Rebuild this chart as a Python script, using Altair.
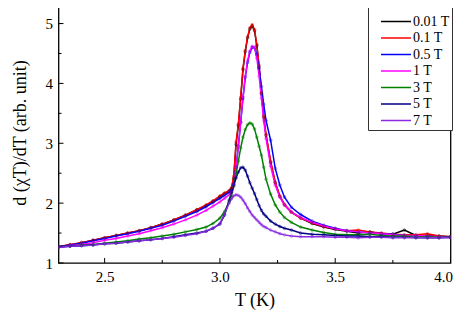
import altair as alt
import pandas as pd

T = [2.30, 2.35, 2.40, 2.45, 2.50, 2.55, 2.60, 2.65, 2.70, 2.75, 2.80, 2.85, 2.90,
     2.94, 2.97, 3.00, 3.02, 3.04,
     3.05, 3.06, 3.07, 3.08, 3.09, 3.10, 3.11, 3.12, 3.13, 3.14, 3.15, 3.16, 3.17, 3.18, 3.19, 3.20,
     3.22, 3.24, 3.26, 3.28, 3.31, 3.35, 3.40,
     3.45, 3.50, 3.55, 3.60, 3.65, 3.70, 3.75, 3.80, 3.85, 3.90, 3.95, 4.00]

y_001 = [1.27, 1.30, 1.34, 1.38, 1.42, 1.46, 1.50, 1.54, 1.59, 1.65, 1.72, 1.80, 1.89,
         1.96, 2.03, 2.11, 2.16, 2.20,
         2.24, 2.42, 2.98, 3.30, 3.74, 4.23, 4.53, 4.76, 4.91, 4.96, 4.88, 4.63, 4.27, 3.83, 3.43, 3.13,
         2.68, 2.34, 2.11, 1.97, 1.85, 1.75, 1.66,
         1.60, 1.56, 1.53, 1.50, 1.52, 1.49, 1.48, 1.55, 1.46, 1.46, 1.45, 1.44]
y_01 = [1.27, 1.31, 1.34, 1.38, 1.42, 1.46, 1.50, 1.54, 1.59, 1.65, 1.72, 1.80, 1.89,
        1.97, 2.04, 2.12, 2.17, 2.21,
        2.26, 2.45, 3.02, 3.32, 3.77, 4.25, 4.55, 4.78, 4.93, 4.98, 4.90, 4.65, 4.30, 3.85, 3.45, 3.15,
        2.70, 2.35, 2.12, 1.98, 1.85, 1.75, 1.67,
        1.61, 1.57, 1.54, 1.55, 1.52, 1.50, 1.48, 1.47, 1.47, 1.49, 1.45, 1.44]
y_05 = [1.27, 1.30, 1.33, 1.37, 1.41, 1.45, 1.49, 1.53, 1.58, 1.63, 1.70, 1.78, 1.86,
        1.94, 2.01, 2.08, 2.13, 2.18,
        2.22, 2.32, 2.60, 2.95, 3.35, 3.75, 4.10, 4.35, 4.52, 4.60, 4.60, 4.48, 4.25, 3.95, 3.65, 3.38,
        3.05, 2.58, 2.30, 2.10, 1.93, 1.81, 1.70,
        1.63, 1.58, 1.54, 1.52, 1.50, 1.49, 1.48, 1.46, 1.45, 1.44, 1.44, 1.43]
y_1 = [1.26, 1.29, 1.31, 1.34, 1.38, 1.41, 1.45, 1.49, 1.54, 1.59, 1.65, 1.72, 1.80,
       1.88, 1.95, 2.02, 2.08, 2.14,
       2.18, 2.30, 2.60, 2.95, 3.35, 3.78, 4.12, 4.38, 4.54, 4.62, 4.60, 4.42, 4.12, 3.75, 3.38, 3.08,
       2.62, 2.30, 2.10, 1.97, 1.85, 1.76, 1.68,
       1.62, 1.57, 1.54, 1.52, 1.50, 1.49, 1.47, 1.46, 1.46, 1.45, 1.44, 1.43]
y_3 = [1.27, 1.28, 1.30, 1.31, 1.33, 1.35, 1.37, 1.40, 1.42, 1.45, 1.48, 1.52, 1.56,
       1.60, 1.66, 1.75, 1.86, 2.02,
       2.12, 2.28, 2.48, 2.70, 2.92, 3.10, 3.23, 3.31, 3.34, 3.32, 3.24, 3.10, 2.95, 2.80, 2.60, 2.40,
       2.15, 1.97, 1.85, 1.76, 1.68, 1.60, 1.55,
       1.51, 1.48, 1.47, 1.47, 1.48, 1.46, 1.45, 1.45, 1.44, 1.44, 1.43, 1.43]
y_5 = [1.27, 1.28, 1.29, 1.30, 1.32, 1.33, 1.35, 1.37, 1.39, 1.41, 1.44, 1.47, 1.50,
       1.53, 1.58, 1.65, 1.80, 2.05,
       2.18, 2.30, 2.42, 2.52, 2.59, 2.60, 2.55, 2.45, 2.34, 2.25, 2.16, 2.06, 1.96, 1.88, 1.82, 1.78,
       1.70, 1.65, 1.61, 1.58, 1.55, 1.50, 1.48,
       1.47, 1.46, 1.45, 1.45, 1.44, 1.44, 1.43, 1.43, 1.42, 1.42, 1.42, 1.43]
y_7 = [1.26, 1.28, 1.29, 1.30, 1.32, 1.33, 1.35, 1.37, 1.39, 1.41, 1.43, 1.46, 1.49,
       1.53, 1.58, 1.66, 1.82, 2.00,
       2.07, 2.12, 2.14, 2.13, 2.10, 2.05, 1.99, 1.92, 1.86, 1.80, 1.76, 1.72, 1.68, 1.64, 1.61, 1.59,
       1.55, 1.52, 1.49, 1.47, 1.45, 1.44, 1.44,
       1.44, 1.43, 1.43, 1.42, 1.43, 1.43, 1.42, 1.42, 1.43, 1.42, 1.42, 1.42]

fields = ["0.01 T", "0.1 T", "0.5 T", "1 T", "3 T", "5 T", "7 T"]
colors = ["#000000", "#ff0000", "#0000ff", "#ff00ff", "#008000", "#000080", "#8a2be2"]
series = [y_001, y_01, y_05, y_1, y_3, y_5, y_7]

x_major = [2.5, 3.0, 3.5, 4.0]
x_minor = [2.75, 3.25, 3.75]
y_major = [1, 2, 3, 4, 5]
y_minor = [1.5, 2.5, 3.5, 4.5, 5.0]

rows = []
for k, (f, vals) in enumerate(zip(fields, series)):
    for t, v in zip(T, vals):
        rows.append({"T": t, "value": v, "field": f, "k": k})
df = pd.DataFrame(rows)

W, H = 392, 261
FONT = "Liberation Serif, Times New Roman, serif"
xscale = alt.Scale(domain=[2.3, 4.0], nice=False, zero=False)
yscale = alt.Scale(domain=[1.0, 5.36], nice=False, zero=False)

xaxis = alt.Axis(values=x_major, format=".1f", ticks=False, domain=False, grid=False,
                 labelFont=FONT, labelFontSize=15, labelColor="black", labelPadding=6,
                 labelFlush=True, labelFlushOffset=2,
                 title="T (K)", titleFont=FONT, titleFontSize=18, titleFontWeight="normal",
                 titleColor="black", titlePadding=7)
yaxis = alt.Axis(values=y_major, format="d", ticks=False, domain=False, grid=False,
                 labelFont=FONT, labelFontSize=15, labelColor="black", labelPadding=6,
                 title="d (χT)/dT (arb. unit)", titleFont=FONT, titleFontSize=18,
                 titleFontWeight="normal", titleColor="black", titlePadding=16)

color = alt.Color("field:N", sort=fields,
                  scale=alt.Scale(domain=fields, range=colors),
                  legend=alt.Legend(orient="none", legendX=309.5, legendY=-4, title=" ",
                                    titleFontSize=10, titlePadding=4, padding=2,
                                    symbolType="stroke", symbolSize=900, symbolStrokeWidth=1.6,
                                    symbolOffset=10, clipHeight=15, rowPadding=1.5,
                                    labelFont=FONT, labelFontSize=14, labelColor="black",
                                    labelOffset=1,
                                    strokeColor="#333333", fillColor="white"))

lines = alt.Chart(df).mark_line(strokeWidth=1.5, clip=True).encode(
    x=alt.X("T:Q", scale=xscale, axis=xaxis),
    y=alt.Y("value:Q", scale=yscale, axis=yaxis),
    color=color,
    order=alt.Order("T:Q"),
)
pts = alt.Chart(df).mark_point(size=7, filled=False, strokeWidth=0.7, clip=True).encode(
    x=alt.X("T:Q"),
    y=alt.Y("value:Q"),
    color=alt.Color("field:N", sort=fields, scale=alt.Scale(domain=fields, range=colors), legend=None),
)

xt_major = alt.Chart(pd.DataFrame({"T": x_major})).mark_rule(color="black", strokeWidth=1).encode(
    x="T:Q", y=alt.value(H), y2=alt.value(H - 5))
xt_minor = alt.Chart(pd.DataFrame({"T": x_minor})).mark_rule(color="black", strokeWidth=1).encode(
    x="T:Q", y=alt.value(H), y2=alt.value(H - 3))
yt_major = alt.Chart(pd.DataFrame({"value": y_major})).mark_rule(color="black", strokeWidth=1).encode(
    y="value:Q", x=alt.value(0), x2=alt.value(5))
yt_minor = alt.Chart(pd.DataFrame({"value": y_minor})).mark_rule(color="black", strokeWidth=1).encode(
    y="value:Q", x=alt.value(0), x2=alt.value(3))

chart = alt.layer(lines, pts, xt_major, xt_minor, yt_major, yt_minor).properties(
    width=W, height=H,
    autosize=alt.AutoSizeParams(type="none"),
    padding={"left": 50.5, "top": -6, "right": 4, "bottom": 48},
    background="white",
).configure_view(stroke="black", strokeWidth=1.3)

chart.save("out.html", embed_options={"renderer": "svg", "actions": False})
